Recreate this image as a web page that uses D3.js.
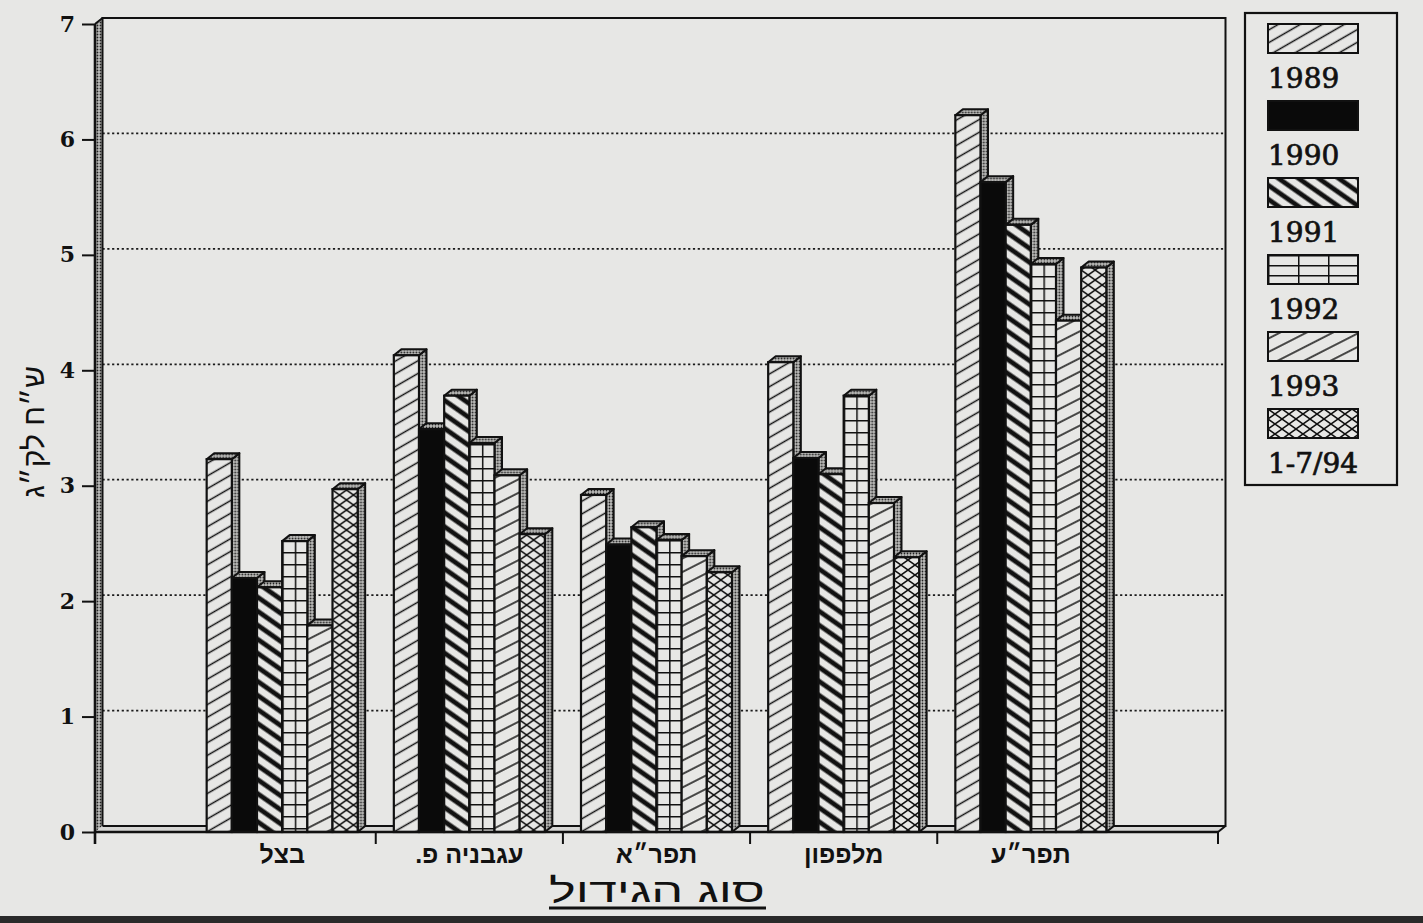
<!DOCTYPE html>
<html><head><meta charset="utf-8">
<script src="https://cdn.jsdelivr.net/npm/d3@7"></script>
<style>html,body{margin:0;padding:0;background:#e7e7e5;}svg{display:block;}</style>
</head><body>
<svg id="c" width="1423" height="923"></svg>
<script>
// ---- data ----
const categories = ["בצל", "עגבניה פ.", "תפר״א", "מלפפון", "תפר״ע"];
const years = ["1989", "1990", "1991", "1992", "1993", "1-7/94"];
const s1989 = [3.23, 4.13, 2.92, 4.07, 6.21];
const s1990 = [2.20, 3.49, 2.49, 3.24, 5.63];
const s1991 = [2.12, 3.78, 2.64, 3.10, 5.26];
const s1992 = [2.52, 3.37, 2.53, 3.78, 4.92];
const s1993 = [1.79, 3.09, 2.39, 2.85, 4.43];
const s1994 = [2.97, 2.58, 2.25, 2.38, 4.89];
const series = [s1989, s1990, s1991, s1992, s1993, s1994];
const yTicks = [0, 1, 2, 3, 4, 5, 6, 7];
const yTickLabels = ["0", "1", "2", "3", "4", "5", "6", "7"];
const gridValues = [1, 2, 3, 4, 5, 6];
const yTitle = "ש״ח לק״ג";
const xTitle = "סוג הגידול";

// ---- layout ----
const BG = "#e7e7e5";
const svg = d3.select("#c");
svg.append("rect").attr("width", 1423).attr("height", 923).attr("fill", BG);

const x0 = 95, x1 = 1218, yBase = 832, yTop = 24;
const dx = 7.5, dy = -6;
const y = d3.scaleLinear().domain([0, 7]).range([yBase, yTop]);
const x = d3.scaleBand().domain(categories).range([x0, x1]).paddingInner(0).paddingOuter(0.5);
const groupW = 151;
const xs = d3.scaleBand().domain(years).range([0, groupW]).padding(0);
const bw = xs.bandwidth();

// ---- patterns ----
const defs = svg.append("defs");
function stripes(id, spacing, width, angle, color) {
  const p = defs.append("pattern").attr("id", id).attr("patternUnits", "userSpaceOnUse")
    .attr("width", 40).attr("height", spacing).attr("patternTransform", `rotate(${angle})`);
  p.append("rect").attr("width", 40).attr("height", spacing).attr("fill", BG);
  p.append("line").attr("x1", 0).attr("x2", 40).attr("y1", spacing / 2).attr("y2", spacing / 2)
    .attr("stroke", color).attr("stroke-width", width);
}
stripes("p0", 11, 1.7, -30, "#111");
stripes("p2", 11.5, 4.6, 35, "#111");
stripes("p4", 12, 1.7, -27, "#111");
(function () {
  const p = defs.append("pattern").attr("id", "p1").attr("patternUnits", "userSpaceOnUse").attr("width", 10).attr("height", 10);
  p.append("rect").attr("width", 10).attr("height", 10).attr("fill", "#0a0a0a");
})();
function grid(id, w, h) {
  const p = defs.append("pattern").attr("id", id).attr("patternUnits", "userSpaceOnUse").attr("width", w).attr("height", h);
  p.append("rect").attr("width", w).attr("height", h).attr("fill", BG);
  p.append("path").attr("d", `M0,0.7H${w}M0.7,0V${h}`).attr("stroke", "#111").attr("stroke-width", 1.6).attr("fill", "none");
}
grid("p3", bw / 2, 12);
grid("p3L", 30, 10);
(function () {
  const w = 14, h = 10;
  const p = defs.append("pattern").attr("id", "p5").attr("patternUnits", "userSpaceOnUse").attr("width", w).attr("height", h);
  p.append("rect").attr("width", w).attr("height", h).attr("fill", BG);
  p.append("path").attr("d", `M0,0L${w},${h}M0,${h}L${w},0`).attr("stroke", "#111").attr("stroke-width", 1.5).attr("fill", "none");
})();
(function () {
  const p = defs.append("pattern").attr("id", "stip").attr("patternUnits", "userSpaceOnUse").attr("width", 3).attr("height", 3);
  p.append("rect").attr("width", 3).attr("height", 3).attr("fill", "#bdbdbb");
  p.append("circle").attr("cx", 1.5).attr("cy", 1.5).attr("r", 0.9).attr("fill", "#222");
})();
const fills = ["url(#p0)", "url(#p1)", "url(#p2)", "url(#p3)", "url(#p4)", "url(#p5)"];
const legendFills = ["url(#p0)", "url(#p1)", "url(#p2)", "url(#p3L)", "url(#p4)", "url(#p5)"];

// ---- walls ----
const wallL = x0 + dx, wallR = 1225.5, wallTop = y(7) + dy, wallBot = y(0) + dy;
svg.append("path").attr("d", `M${x0},${y(7)}L${wallL},${wallTop}L${wallL},${wallBot}L${x0},${y(0)}Z`)
  .attr("fill", "url(#stip)").attr("stroke", "none");
svg.append("path").attr("d", `M${x0},${y(0)}L${wallL},${wallBot}L${wallR},${wallBot}L${x1},${y(0)}Z`)
  .attr("fill", "#d6d6d4").attr("stroke", "none");
svg.append("g").selectAll("line").data(gridValues).join("line")
  .attr("x1", wallL).attr("x2", wallR)
  .attr("y1", d => y(d) + dy).attr("y2", d => y(d) + dy)
  .attr("stroke", "#1a1a1a").attr("stroke-width", 1.7).attr("stroke-dasharray", "2.2,2.6");
svg.append("path").attr("d", `M${wallL},${wallBot}V${wallTop}H${wallR}V${wallBot}H${wallL}`)
  .attr("fill", "none").attr("stroke", "#111").attr("stroke-width", 2);
svg.append("path").attr("d", `M${x0},${y(7)}L${wallL},${wallTop}M${x1},${y(0)}L${wallR},${wallBot}`)
  .attr("fill", "none").attr("stroke", "#111").attr("stroke-width", 2);

// ---- bars ----
const bars = svg.append("g");
categories.forEach((cat, ci) => {
  const gx = x(cat) + x.bandwidth() / 2 - groupW / 2;
  years.forEach((yr, si) => {
    const v = series[si][ci];
    const bx = gx + xs(yr);
    const g = bars.append("g").attr("transform", `translate(${bx},0)`);
    const yt = y(v), yb = y(0);
    g.append("path").attr("d", `M${bw},${yt}L${bw + dx},${yt + dy}L${bw + dx},${yb + dy}L${bw},${yb}Z`)
      .attr("fill", "url(#stip)").attr("stroke", "#111").attr("stroke-width", 2).attr("stroke-linejoin", "round");
    g.append("path").attr("d", `M0,${yt}L${dx},${yt + dy}L${bw + dx},${yt + dy}L${bw},${yt}Z`)
      .attr("fill", "url(#stip)").attr("stroke", "#111").attr("stroke-width", 2).attr("stroke-linejoin", "round");
    g.append("rect").attr("x", 0).attr("y", yt).attr("width", bw).attr("height", yb - yt)
      .attr("fill", fills[si]).attr("stroke", "#111").attr("stroke-width", 2.2);
  });
});

// ---- axes ----
const yAxis = d3.axisLeft(y).tickValues(yTicks).tickSize(13).tickPadding(7)
  .tickFormat((d, i) => yTickLabels[i]);
const ya = svg.append("g").attr("transform", `translate(${x0},0)`).call(yAxis);
ya.select(".domain").remove();
ya.selectAll(".tick line").attr("stroke", "#111").attr("stroke-width", 2);
ya.selectAll(".tick text").attr("font-family", "DejaVu Serif").attr("font-weight", "bold")
  .attr("font-size", 22).attr("fill", "#111");
svg.append("line").attr("x1", x0).attr("x2", x0).attr("y1", y(7)).attr("y2", y(0) + 12)
  .attr("stroke", "#111").attr("stroke-width", 2.6);

const xAxis = d3.axisBottom(x).tickSize(0).tickPadding(13);
const xa = svg.append("g").attr("transform", `translate(0,${y(0)})`).call(xAxis);
xa.select(".domain").remove();
xa.selectAll(".tick text").attr("font-family", "Liberation Sans").attr("font-weight", "bold")
  .attr("font-size", 25).attr("fill", "#111").attr("direction", "rtl").attr("dy", "0.72em");
svg.append("line").attr("x1", x0).attr("x2", x1).attr("y1", y(0)).attr("y2", y(0))
  .attr("stroke", "#111").attr("stroke-width", 2.6);
const bounds = categories.slice(1).map(c => x(c)).concat([x1]);
svg.append("g").selectAll("line").data(bounds).join("line")
  .attr("x1", d => d).attr("x2", d => d).attr("y1", y(0)).attr("y2", y(0) + 12)
  .attr("stroke", "#111").attr("stroke-width", 2);

// ---- titles ----
svg.append("text").attr("transform", `translate(44,432) rotate(-90)`)
  .attr("text-anchor", "middle").attr("direction", "rtl")
  .attr("font-family", "Liberation Sans").attr("font-size", 30).attr("fill", "#111").text(yTitle);
svg.append("text").attr("x", 657).attr("y", 902).attr("text-anchor", "middle").attr("direction", "rtl")
  .attr("font-family", "Liberation Sans").attr("font-size", 34).attr("fill", "#111")
  .attr("textLength", 216).attr("lengthAdjust", "spacingAndGlyphs").text(xTitle);
svg.append("line").attr("x1", 549).attr("x2", 766).attr("y1", 908).attr("y2", 908)
  .attr("stroke", "#111").attr("stroke-width", 2.8);

// ---- legend ----
const lg = svg.append("g");
lg.append("rect").attr("x", 1245).attr("y", 13).attr("width", 152).attr("height", 472)
  .attr("fill", BG).attr("stroke", "#111").attr("stroke-width", 2.2);
const lStep = d3.scalePoint().domain(years).range([24, 409]);
years.forEach((yr, i) => {
  const top = lStep(yr);
  lg.append("g").attr("transform", `translate(1268,${top})`)
    .append("rect").attr("width", 90).attr("height", 29)
    .attr("fill", legendFills[i]).attr("stroke", "#111").attr("stroke-width", 2);
  lg.append("text").attr("x", 1268).attr("y", top + 64)
    .attr("font-family", "DejaVu Serif").attr("font-size", 28)
    .attr("stroke", "#111").attr("stroke-width", 0.7)
    .attr("fill", "#111").text(yr);
});

// scan edge
svg.append("rect").attr("x", 0).attr("y", 916).attr("width", 1423).attr("height", 7).attr("fill", "#2a2a2a");
</script>
</body></html>
